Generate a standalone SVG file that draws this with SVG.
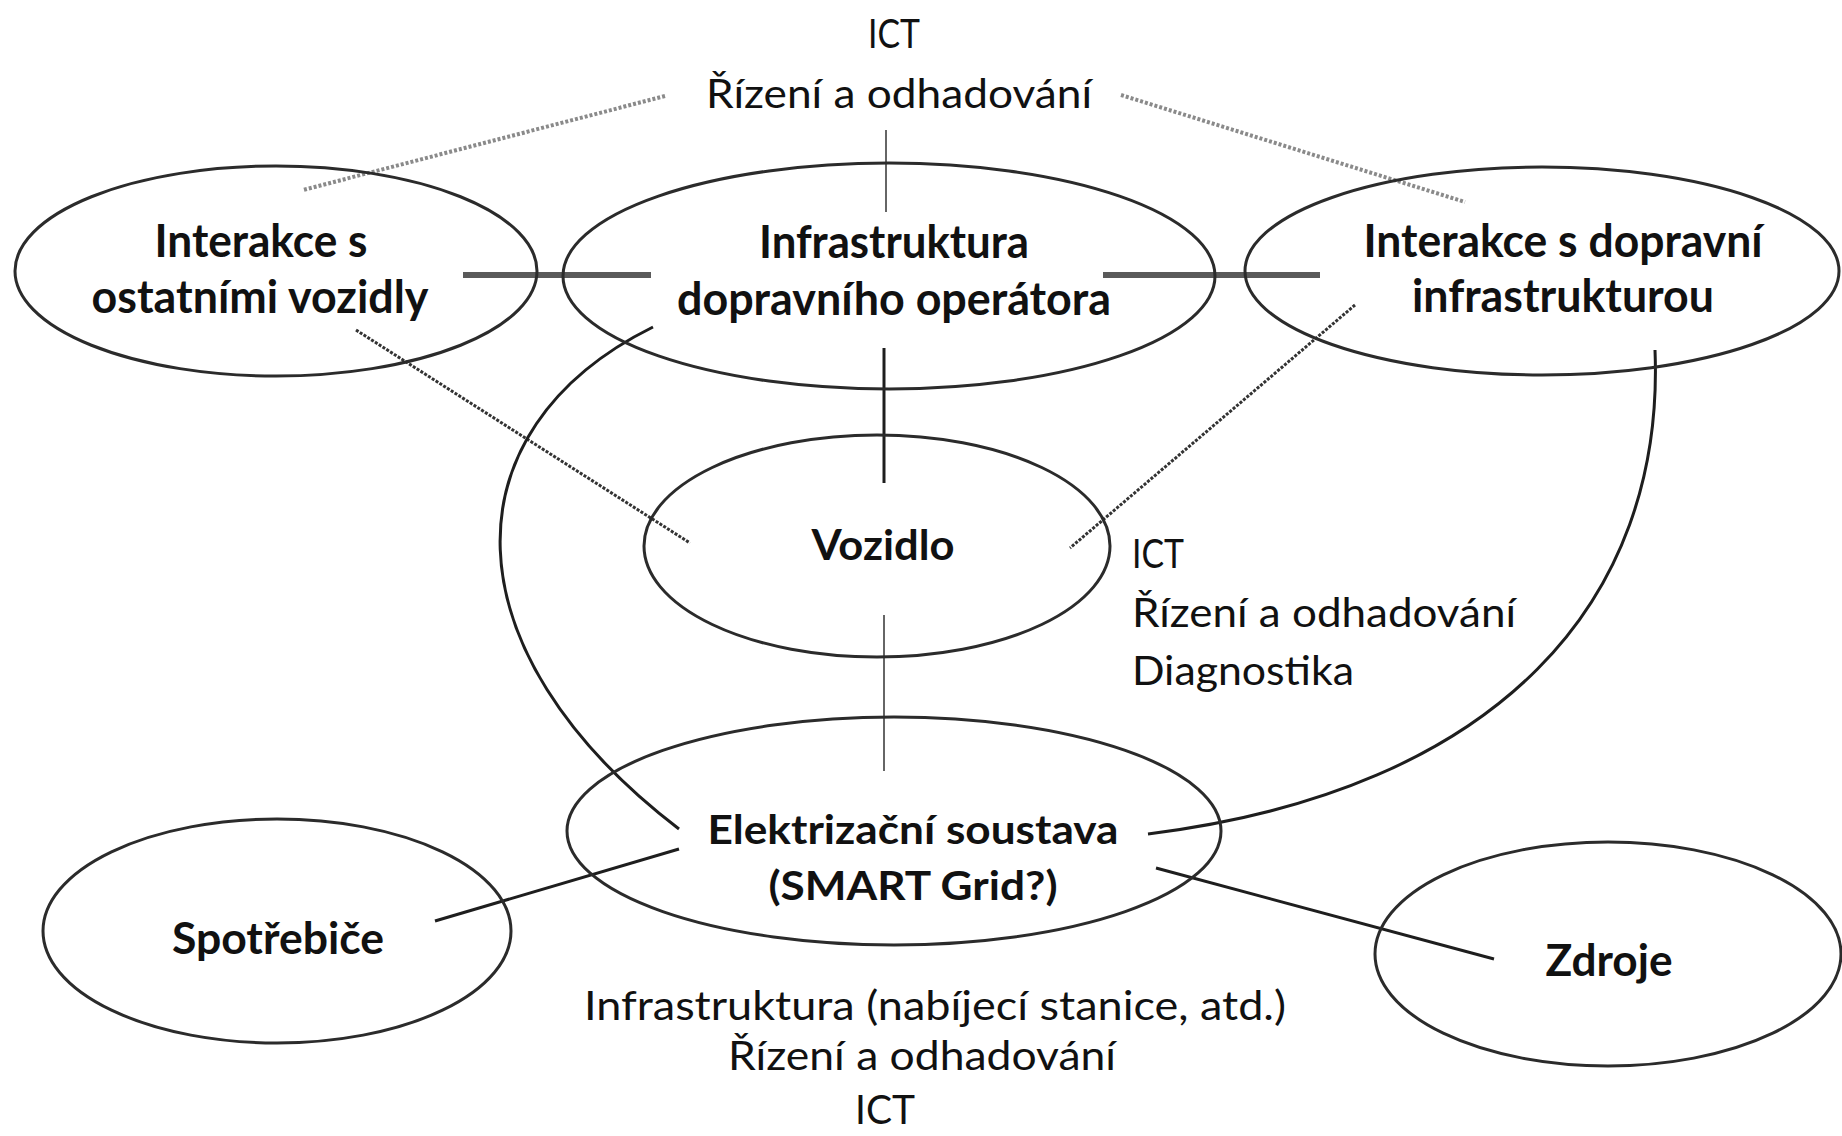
<svg xmlns="http://www.w3.org/2000/svg" width="1842" height="1136" viewBox="0 0 1842 1136">
<style>
  .node ellipse { fill: none; stroke: #2b2b2b; stroke-width: 3; }
  .lbl { font-family: Lato, "Open Sans", "Liberation Sans", sans-serif; font-weight: bold; fill: #111; text-anchor: middle; }
  .txt { font-family: Lato, "Open Sans", "Liberation Sans", sans-serif; fill: #111; font-size: 40px; }
  .solid { fill: none; stroke: #1e1e1e; stroke-width: 3; }
  .thick { fill: none; stroke: #5a5a5a; stroke-width: 6; }
  .thin { fill: none; stroke: #666; stroke-width: 2; }
  .dotLight { fill: none; stroke: #8a8a8a; stroke-width: 4; stroke-dasharray: 3 2; }
  .dotDark { fill: none; stroke: #333; stroke-width: 3; stroke-dasharray: 3 1.5; }
</style>
<rect width="1842" height="1136" fill="#fff"/>

<g id="connectors">
  <line class="thin" x1="886" y1="130" x2="886" y2="212"/>
  <line class="solid" x1="884" y1="348" x2="884" y2="483"/>
  <line class="thin" x1="884" y1="615" x2="884" y2="771" stroke="#333"/>
  <line class="thick" x1="463" y1="275" x2="651" y2="275"/>
  <line class="thick" x1="1103" y1="275" x2="1320" y2="275"/>
  <line class="dotLight" x1="665" y1="96" x2="303" y2="190"/>
  <line class="dotLight" x1="1121" y1="95" x2="1465" y2="202"/>
  <line class="dotDark" x1="356" y1="330" x2="690" y2="543"/>
  <line class="dotDark" x1="1355" y1="305" x2="1070" y2="548"/>
  <path class="solid" d="M653 327 C445 430 445 650 679 829"/>
  <path class="solid" d="M1655 350 C1665 600 1500 790 1148 834"/>
  <line class="solid" x1="679" y1="849" x2="435" y2="921" stroke-width="4"/>
  <line class="solid" x1="1156" y1="868" x2="1494" y2="959" stroke-width="4"/>
</g>

<g id="node-interakce-vozidla" class="node">
  <ellipse cx="276" cy="271" rx="261" ry="105"/>
  <text class="lbl" x="261" y="257" font-size="45" textLength="213" lengthAdjust="spacingAndGlyphs">Interakce s</text>
  <text class="lbl" x="260" y="313" font-size="45" textLength="337" lengthAdjust="spacingAndGlyphs">ostatními vozidly</text>
</g>

<g id="node-infrastruktura-operatora" class="node">
  <ellipse cx="889" cy="276" rx="326" ry="113"/>
  <text class="lbl" x="894" y="258" font-size="45" textLength="270" lengthAdjust="spacingAndGlyphs">Infrastruktura</text>
  <text class="lbl" x="894" y="315" font-size="45" textLength="434" lengthAdjust="spacingAndGlyphs">dopravního operátora</text>
</g>

<g id="node-interakce-infrastruktura" class="node">
  <ellipse cx="1542" cy="271" rx="297" ry="104"/>
  <text class="lbl" x="1563" y="257" font-size="45" textLength="399" lengthAdjust="spacingAndGlyphs">Interakce s dopravní</text>
  <text class="lbl" x="1563" y="312" font-size="45" textLength="302" lengthAdjust="spacingAndGlyphs">infrastrukturou</text>
</g>

<g id="node-vozidlo" class="node">
  <ellipse cx="877" cy="546" rx="233" ry="111"/>
  <text class="lbl" x="883" y="560" font-size="42" textLength="143" lengthAdjust="spacingAndGlyphs">Vozidlo</text>
</g>

<g id="node-elektrizacni-soustava" class="node">
  <ellipse cx="894" cy="831" rx="327" ry="114"/>
  <text class="lbl" x="913" y="844" font-size="41" textLength="411" lengthAdjust="spacingAndGlyphs">Elektrizační soustava</text>
  <text class="lbl" x="913" y="900" font-size="41" textLength="289" lengthAdjust="spacingAndGlyphs">(SMART Grid?)</text>
</g>

<g id="node-spotrebice" class="node">
  <ellipse cx="277" cy="931" rx="234" ry="112"/>
  <text class="lbl" x="278" y="954" font-size="43" textLength="212" lengthAdjust="spacingAndGlyphs">Spotřebiče</text>
</g>

<g id="node-zdroje" class="node">
  <ellipse cx="1608" cy="954" rx="233" ry="112"/>
  <text class="lbl" x="1609" y="976" font-size="43" textLength="127" lengthAdjust="spacingAndGlyphs">Zdroje</text>
</g>

<g id="labels">
  <text class="txt" x="894" y="48" text-anchor="middle" textLength="52" lengthAdjust="spacingAndGlyphs">ICT</text>
  <text class="txt" x="899" y="108" text-anchor="middle" textLength="386" lengthAdjust="spacingAndGlyphs">Řízení a odhadování</text>
  <text class="txt" x="1132" y="568" textLength="52" lengthAdjust="spacingAndGlyphs">ICT</text>
  <text class="txt" x="1132" y="627" textLength="384" lengthAdjust="spacingAndGlyphs">Řízení a odhadování</text>
  <text class="txt" x="1132" y="685" textLength="222" lengthAdjust="spacingAndGlyphs">Diagnostika</text>
  <text class="txt" x="935" y="1020" text-anchor="middle" textLength="702" lengthAdjust="spacingAndGlyphs">Infrastruktura (nabíjecí stanice, atd.)</text>
  <text class="txt" x="922" y="1070" text-anchor="middle" textLength="388" lengthAdjust="spacingAndGlyphs">Řízení a odhadování</text>
  <text class="txt" x="885" y="1124" text-anchor="middle" textLength="60" lengthAdjust="spacingAndGlyphs">ICT</text>
</g>
</svg>
